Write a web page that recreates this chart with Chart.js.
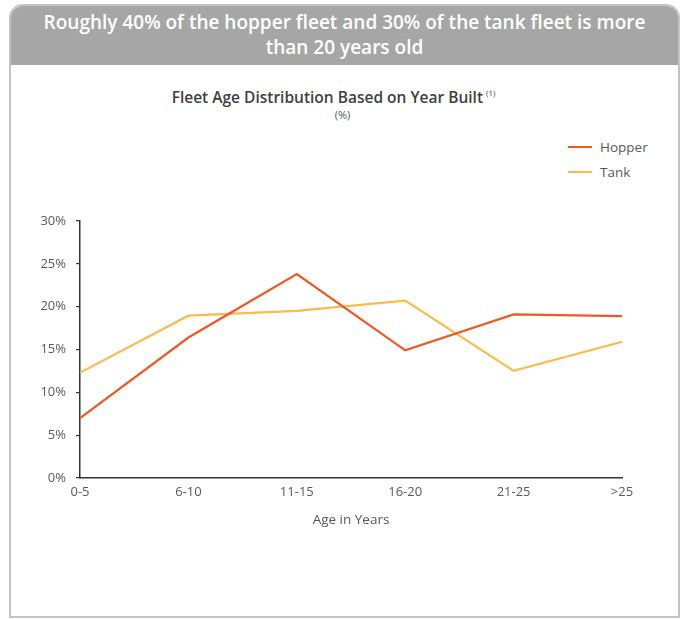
<!DOCTYPE html>
<html>
<head>
<meta charset="utf-8">
<script src="https://cdn.jsdelivr.net/npm/chart.js@4.4.0/dist/chart.umd.min.js"></script>
<style>
  body { margin: 0; width: 681px; height: 619px; background: #fff; font-family: "Open Sans", sans-serif; position: relative; overflow: hidden; }
  #panel { position: absolute; left: 9px; top: 4px; width: 667px; height: 610px; border: 2px solid #c4c4c4; border-radius: 14px 14px 0 0; background: #fff; }
  #header { position: absolute; left: 0; top: 0; right: 0; height: 59px; background: #a6a6a6; border-radius: 12px 12px 0 0;
            color: #fff; font-weight: 600; font-size: 19px; line-height: 25px; text-align: center; padding-top: 4px; box-sizing: border-box; }
  #title { position: absolute; left: 0; width: 667px; top: 86px; text-align: center; color: #404040; font-weight: 600; font-size: 15.5px; }
  #title sup { font-size: 8px; font-weight: normal; vertical-align: 7px; margin-left: 3px; }
  #unit { position: absolute; left: 0; width: 685px; top: 107px; text-align: center; color: #595959; font-size: 11px; }
  #legend { position: absolute; left: 568px; top: 134px; font-size: 13.5px; color: #595959; }
  .item { display: flex; align-items: center; height: 25px; }
  .swatch { width: 24px; height: 2px; margin-right: 8px; }
  #wrap { position: absolute; left: 0; top: 0; width: 681px; height: 619px; }
</style>
</head>
<body>
<div id="panel">
  <div id="header">Roughly 40% of the hopper fleet and 30% of the tank fleet is more<br>than 20 years old</div>
</div>
<div id="title">Fleet Age Distribution Based on Year Built<sup>(1)</sup></div>
<div id="unit">(%)</div>
<div id="legend"></div>
<div id="wrap"><canvas id="chart"></canvas></div>
<script>
// age buckets and fleet shares (%)
const ageBuckets = ['0-5', '6-10', '11-15', '16-20', '21-25', '>25'];
const hopperShare = [7.0, 16.4, 23.8, 14.9, 19.1, 18.9];
const tankShare = [12.3, 18.95, 19.5, 20.7, 12.5, 15.9];
const yTicks = [0, 5, 10, 15, 20, 25, 30];

const HOPPER_COLOR = '#ee5923';
const TANK_COLOR = '#fbbb4c';
const TEXT_COLOR = '#595959';
const AXIS_COLOR = '#333333';

const series = [
  { label: 'Hopper', data: hopperShare, color: HOPPER_COLOR },
  { label: 'Tank', data: tankShare, color: TANK_COLOR }
];

// html legend, built from the series list
const legend = document.getElementById('legend');
series.forEach(s => {
  const row = document.createElement('div');
  row.className = 'item';
  row.innerHTML = `<span class="swatch" style="background:${s.color}"></span>${s.label}`;
  legend.appendChild(row);
});

Chart.defaults.font.family = '"Open Sans", sans-serif';
Chart.defaults.color = TEXT_COLOR;

new Chart(document.getElementById('chart'), {
  type: 'line',
  data: {
    labels: ageBuckets,
    datasets: series.map(s => ({
      label: s.label,
      data: s.data,
      borderColor: s.color,
      backgroundColor: s.color,
      borderWidth: 2.2,
      pointRadius: 0,
      tension: 0,
      fill: false
    }))
  },
  options: {
    responsive: true,
    maintainAspectRatio: false,
    animation: false,
    layout: { padding: { left: 0, right: 59, top: 221, bottom: 91 } },
    plugins: { legend: { display: false }, tooltip: { enabled: false } },
    scales: {
      x: {
        offset: false,
        afterFit: s => { s.height = 50; },
        grid: { display: false, drawTicks: false },
        border: { display: true, color: AXIS_COLOR, width: 1.5 },
        ticks: { padding: 6, font: { size: 13 }, color: TEXT_COLOR, maxRotation: 0 },
        title: { display: true, text: 'Age in Years', font: { size: 13.5 }, color: TEXT_COLOR, padding: 0 }
      },
      y: {
        min: 0,
        max: 30,
        afterFit: s => { s.width = 80; },
        afterBuildTicks: s => { s.ticks = yTicks.map(v => ({ value: v })); },
        grid: { drawOnChartArea: false, drawTicks: true, tickLength: 4, color: AXIS_COLOR, lineWidth: 1.2 },
        border: { display: true, color: AXIS_COLOR, width: 1.5 },
        ticks: { padding: 10, font: { size: 13 }, color: TEXT_COLOR, callback: v => v + '%' }
      }
    }
  }
});
</script>
</body>
</html>
